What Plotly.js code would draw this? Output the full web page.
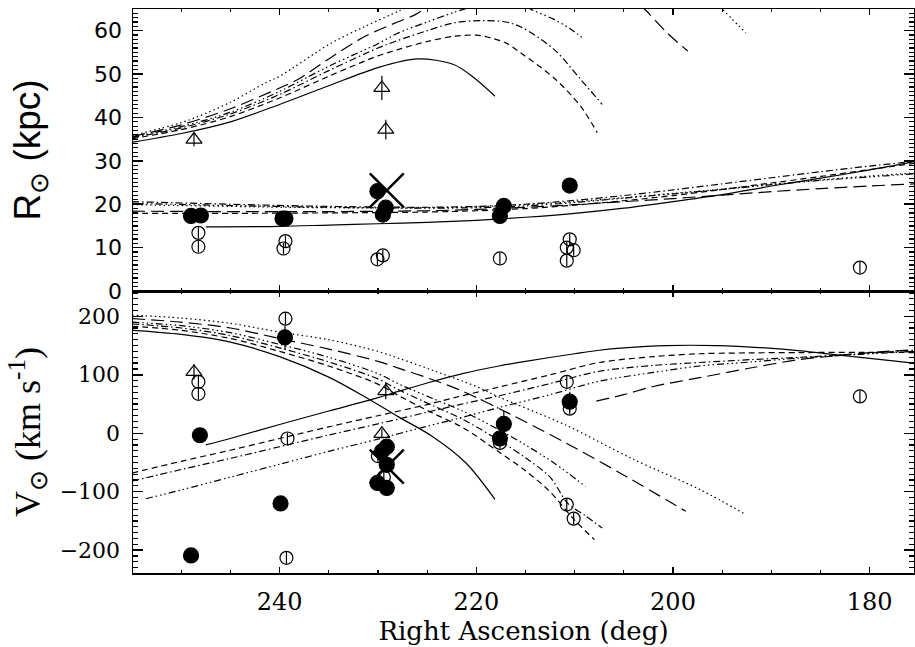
<!DOCTYPE html>
<html><head><meta charset="utf-8">
<script src="https://cdn.plot.ly/plotly-3.0.1.min.js"></script>
<style>html,body{margin:0;padding:0;background:#fff}#plot{width:915px;height:647px}</style>
</head><body><div id="plot"></div>
<script>
// ---------- Top panel: distance R (kpc) model curves, upper family ----------
const solidUpRA = [255, 250, 245, 240, 235, 230, 226, 222.3, 220.2, 218.1];
const solidUpR  = [34.3, 36.3, 39.0, 43.0, 47.3, 51.5, 53.5, 52.2, 49.1, 44.9];
const dashedUpRA = [255, 250, 245, 240, 235, 230, 227.9, 225, 222.3, 220, 219, 217, 215.5, 212.1, 209.4, 207.7];
const dashedUpR  = [35.1, 37.2, 40.2, 44.5, 49.5, 54.2, 55.7, 57.5, 58.7, 59.0, 58.6, 57.2, 54.9, 49.1, 42.6, 36.5];
const dashdotUpRA = [255, 250, 245, 240, 235, 230, 227.9, 225, 222.3, 219.5, 217, 215.5, 212.1, 209.4, 207.2];
const dashdotUpR  = [35.3, 37.6, 40.8, 45.3, 50.8, 56.0, 57.8, 60.0, 61.8, 62.3, 62.0, 60.9, 55.7, 48.8, 43.0];
const dash3UpRA_a = [255, 250, 245, 240, 235, 230, 227.9, 225, 222.3, 220.5];
const dash3UpR_a  = [35.5, 37.9, 41.2, 46.0, 51.8, 57.0, 59.5, 62.0, 64.2, 65.5];
const dash3UpRA_b = [214.8, 214.5, 212.1, 210.5, 209.0];
const dash3UpR_b  = [65.5, 65.0, 62.6, 60.5, 58.0];
const longUpRA_a = [255, 250, 245, 240, 238.1, 235, 231.3, 228, 226.2, 225];
const longUpR_a  = [35.6, 38.3, 42.0, 46.8, 48.8, 53.5, 58.7, 62.0, 63.7, 65.5];
const longUpRA_b = [203.2, 202.9, 200.6, 198.5];
const longUpR_b  = [65.5, 65.0, 59.5, 55.3];
const dotUpRA_a = [255, 250, 248.2, 245, 241.4, 240, 234.7, 231.3, 227.9, 227];
const dotUpR_a  = [35.8, 38.8, 40.3, 43.5, 48.0, 49.5, 57.2, 61.0, 64.5, 65.5];
const dotUpRA_b = [195.2, 195.0, 192.6];
const dotUpR_b  = [65.5, 65.0, 59.5];

// ---------- Top panel: lower family ----------
const loRA = [255, 245, 235, 225, 220, 215, 210, 205, 200, 195, 190, 185, 180, 175.5];
const solidLoRA = [247.5, 240, 235, 230, 225, 220, 215, 210, 205, 200, 195, 190, 185, 180, 175.5];
const solidLoR  = [14.8, 14.9, 15.2, 15.5, 15.8, 16.3, 17.0, 17.9, 19.1, 20.6, 22.2, 24.2, 26.0, 27.9, 29.8];
const dashedLoR   = [17.9, 17.9, 18.0, 18.2, 18.5, 19.0, 19.8, 20.8, 22.0, 23.4, 24.9, 26.4, 28.0, 29.4];
const dashdotLoR  = [20.6, 20.0, 19.5, 19.3, 19.5, 20.0, 20.9, 22.0, 23.3, 24.7, 26.1, 27.5, 28.8, 29.9];
const dash3LoR    = [20.2, 19.7, 19.3, 19.1, 19.2, 19.6, 20.4, 21.4, 22.4, 23.4, 24.5, 25.5, 26.3, 27.0];
const longLoR     = [18.4, 18.3, 18.3, 18.5, 18.8, 19.3, 19.9, 20.6, 21.3, 22.1, 22.9, 23.6, 24.2, 24.7];
const dotLoR      = [19.9, 19.5, 19.2, 19.2, 19.4, 19.9, 20.6, 21.5, 22.5, 23.5, 24.6, 25.6, 26.5, 27.2];

// ---------- Bottom panel: velocity V (km/s), descending family ----------
const solidDnRA = [255, 250, 245, 240, 235, 231.3, 227.9, 224.5, 221.1, 218.1];
const solidDnV  = [176, 169, 156, 131, 96, 62, 28, -5, -50, -113];
const dashedDnRA = [255, 250, 245, 240, 235, 230, 227.85, 224.5, 221.4, 217.7, 215, 212.5, 210.2, 208];
const dashedDnV  = [183, 176, 162, 140, 115, 84, 64, 35, 10, -32, -64, -100, -145, -182];
const dashdotDnRA = [255, 250, 245, 240, 235, 230, 227.85, 224.5, 221.4, 217.7, 215, 212.5, 210.7, 209, 207.2];
const dashdotDnV  = [187, 180, 167, 146, 122, 93, 74, 48, 24, -12, -42, -75, -120, -140, -162];
const dash3DnRA = [255, 250, 245, 240, 235, 230, 227.85, 224.5, 221.4, 217.7, 215, 212, 208.9];
const dash3DnV  = [190, 184, 172, 152, 130, 102, 84, 60, 38, 6, -20, -52, -91];
const longDnRA = [255, 250, 245, 240, 235, 230, 227.85, 224.5, 221.4, 216.7, 210.9, 204.8, 198.7];
const longDnV  = [196, 190, 180, 162, 144, 123, 111, 92, 72, 34, -16.5, -73.6, -133.5];
const dotDnRA = [255, 250, 245, 240, 235, 230, 227.85, 224.5, 220, 217.7, 210.9, 204.1, 197.3, 192.6];
const dotDnV  = [202, 197, 188, 173, 160, 140, 128, 108, 80, 62, 14, -44, -96, -139];

// ---------- Bottom panel: ascending family ----------
const solidAsRA = [247.5, 245, 240, 235, 230, 227.85, 225, 221.4, 217.7, 215, 210, 207.5, 205, 200.7, 195.6, 190.6, 187, 183.8, 180, 175.5];
const solidAsV  = [-20, -9, 15, 38, 61, 72, 86, 102, 115, 123, 136, 142, 146, 150, 150, 146, 141, 135, 128, 120];
const asRA = [255, 250, 245, 240, 235, 230, 225, 221.7, 217.7, 212.5, 207.5, 202, 197.3, 192, 187, 181, 175.5];
const dashedAsV  = [-68, -48, -29, -9, 11, 30, 49, 63, 79, 100, 121, 131, 136, 137.5, 138, 138.5, 138];
const dashdotAsV = [-82, -62, -43, -23, -3, 16, 36, 49, 64, 85, 106, 116, 121, 126, 130, 136, 142];
const dash3AsRA = [253.6, 250, 245, 240, 235, 230, 225, 221.7, 217.7, 212.5, 207.5, 202, 197.3, 192, 187, 181, 175.5];
const dash3AsV  = [-112, -97, -75, -53, -31, -10, 12, 26, 44, 66, 89, 104, 115, 122, 128.8, 135, 140];
const longAsRA = [207.8, 205, 202, 197.3, 192, 187.2, 183.8, 180, 175.5];
const longAsV  = [55, 66, 80, 95, 112, 126, 132, 138, 143];

// ---------- Measured objects, top panel ----------
const triR_RA = [248.7, 229.6, 229.2];
const triR    = [34.9, 46.8, 37.2];
const triR_err = [1.6, 2.8, 2.3];
const fillR_RA = [249.0, 248.0, 239.7, 239.4, 230.05, 229.2, 229.5, 217.2, 217.6, 210.5];
const fillR    = [17.3, 17.4, 16.7, 16.7, 23.0, 19.2, 17.6, 19.6, 17.3, 24.3];
const openR_RA = [248.25, 248.25, 239.4, 239.6, 230.05, 229.5, 217.6, 210.5, 210.8, 210.1, 210.8, 181.0];
const openR    = [13.4, 10.2, 11.5, 9.8, 7.3, 8.2, 7.5, 11.9, 10.0, 9.4, 7.0, 5.4];
const crossR_RA = [229.1];
const crossR    = [23.2];

// ---------- Measured objects, bottom panel ----------
const triV_RA = [248.7, 229.2, 229.6];
const triV    = [105, 72, -1];
const triV_err = [13, 14, 8];
const fillV_RA = [248.1, 249.0, 239.45, 239.9, 229.1, 229.6, 229.1, 230.05, 229.1, 210.5, 217.2, 217.6];
const fillV    = [-3.4, -209, 164, -120, -23, -31, -54, -85, -93.5, 54, 16, -9];
const fillV_err = [5, 5, 20, 10, 5, 5, 5, 5, 5, 17, 22, 10];
const openV_RA = [248.25, 248.25, 239.4, 239.2, 239.3, 230.0, 229.4, 210.8, 210.5, 217.6, 210.8, 210.1, 181.0];
const openV    = [88, 67.5, 196, -9, -213, -39, -75, 88, 42, -16.5, -122, -146, 63];
const crossV_RA = [229.1];
const crossV    = [-57];

const DASH = {
  solid: 'solid', dashed: '6px,4px', dashdot: '7px,3px,1.5px,3px',
  dash3: '7px,3px,1.5px,3px,1.5px,3px,1.5px,3px', longdash: '13px,6px', dotted: '1.5px,3px'
};
const traces = [];
function curve(x, y, dash, top) {
  traces.push({x: x, y: y, type: 'scatter', mode: 'lines', xaxis: top ? 'x2' : 'x', yaxis: top ? 'y2' : 'y',
    line: {color: '#000', width: 1.2, dash: DASH[dash], shape: 'spline', smoothing: 0.9},
    hoverinfo: 'skip', showlegend: false});
}
// top upper family
curve(solidUpRA, solidUpR, 'solid', true);
curve(dashedUpRA, dashedUpR, 'dashed', true);
curve(dashdotUpRA, dashdotUpR, 'dashdot', true);
curve(dash3UpRA_a, dash3UpR_a, 'dash3', true);
curve(dash3UpRA_b, dash3UpR_b, 'dash3', true);
curve(longUpRA_a, longUpR_a, 'longdash', true);
curve(longUpRA_b, longUpR_b, 'longdash', true);
curve(dotUpRA_a, dotUpR_a, 'dotted', true);
curve(dotUpRA_b, dotUpR_b, 'dotted', true);
// top lower family
curve(solidLoRA, solidLoR, 'solid', true);
curve(loRA, dashedLoR, 'dashed', true);
curve(loRA, dashdotLoR, 'dashdot', true);
curve(loRA, dash3LoR, 'dash3', true);
curve(loRA, longLoR, 'longdash', true);
curve(loRA, dotLoR, 'dotted', true);
// bottom descending
curve(solidDnRA, solidDnV, 'solid', false);
curve(dashedDnRA, dashedDnV, 'dashed', false);
curve(dashdotDnRA, dashdotDnV, 'dashdot', false);
curve(dash3DnRA, dash3DnV, 'dash3', false);
curve(longDnRA, longDnV, 'longdash', false);
curve(dotDnRA, dotDnV, 'dotted', false);
// bottom ascending
curve(solidAsRA, solidAsV, 'solid', false);
curve(asRA, dashedAsV, 'dashed', false);
curve(asRA, dashdotAsV, 'dashdot', false);
curve(dash3AsRA, dash3AsV, 'dash3', false);
curve(longAsRA, longAsV, 'longdash', false);

function pts(x, y, symbol, size, err, top) {
  const t = {x: x, y: y, type: 'scatter', mode: 'markers', xaxis: top ? 'x2' : 'x', yaxis: top ? 'y2' : 'y',
    marker: {symbol: symbol, size: size, color: '#000', line: {color: '#000', width: 1.2}},
    hoverinfo: 'skip', showlegend: false, cliponaxis: true};
  if (err !== null) {
    t.error_y = Array.isArray(err) ? {type: 'data', array: err, visible: true, color: '#000', thickness: 1.2, width: 0}
                                   : {type: 'constant', value: err, visible: true, color: '#000', thickness: 1.2, width: 0};
  }
  traces.push(t);
}
pts(openR_RA, openR, 'circle-open', 13, 1.3, true);
pts(fillR_RA, fillR, 'circle', 15, null, true);
pts(triR_RA, triR, 'triangle-up-open', 14, triR_err, true);
pts(openV_RA, openV, 'circle-open', 13, 10, false);
pts(fillV_RA, fillV, 'circle', 15, fillV_err, false);
pts(triV_RA, triV, 'triangle-up-open', 14, triV_err, false);
traces.push({x: crossR_RA, y: crossR, type: 'scatter', mode: 'markers', xaxis: 'x2', yaxis: 'y2',
  marker: {symbol: 'x-thin-open', size: 34, color: '#000', line: {color: '#000', width: 2.5}}, hoverinfo: 'skip', showlegend: false});
traces.push({x: crossV_RA, y: crossV, type: 'scatter', mode: 'markers', xaxis: 'x', yaxis: 'y',
  marker: {symbol: 'x-thin-open', size: 34, color: '#000', line: {color: '#000', width: 2.5}}, hoverinfo: 'skip', showlegend: false});

const serif = 'DejaVu Serif';
const sans = 'DejaVu Sans';
const xBase = {
  range: [254.9, 175.5], tick0: 0, dtick: 20, ticks: 'inside', ticklen: 6, tickwidth: 1.5, tickcolor: '#000',
  minor: {ticks: 'inside', dtick: 5, ticklen: 3, tickwidth: 1.2, tickcolor: '#000', showgrid: false},
  showline: true, linewidth: 1.5, linecolor: '#000', mirror: 'allticks', showgrid: false, zeroline: false
};
const layout = {
  width: 915, height: 647,
  margin: {l: 133, r: 1, t: 9, b: 74},
  paper_bgcolor: '#fff', plot_bgcolor: '#fff', showlegend: false,
  xaxis: Object.assign({}, xBase, {anchor: 'y', domain: [0, 1],
    tickfont: {family: serif, size: 24, color: '#000'}, ticklabelstandoff: 7,
    title: {text: 'Right Ascension (deg)', font: {family: serif, size: 26, color: '#000'}, standoff: 5}}),
  xaxis2: Object.assign({}, xBase, {anchor: 'y2', domain: [0, 1], matches: 'x', showticklabels: false}),
  yaxis: {anchor: 'x', domain: [0, 0.5], range: [-239, 243.3], tick0: 0, dtick: 100,
    ticks: 'inside', ticklen: 10, tickwidth: 1.5, tickcolor: '#000',
    minor: {ticks: 'inside', dtick: 10, ticklen: 5, tickwidth: 1.2, tickcolor: '#000', showgrid: false},
    showline: true, linewidth: 1.5, linecolor: '#000', mirror: 'allticks', showgrid: false, zeroline: false,
    tickfont: {family: serif, size: 22, color: '#000'}, ticklabelstandoff: 7,
    title: {text: 'V<sub>⊙</sub> (km s<sup>-1</sup>)', font: {family: 'Liberation Serif', size: 36, color: '#000'}, standoff: 8}},
  yaxis2: {anchor: 'x2', domain: [0.5, 1], range: [0, 65], tick0: 0, dtick: 10,
    ticks: 'inside', ticklen: 10, tickwidth: 1.5, tickcolor: '#000',
    minor: {ticks: 'inside', dtick: 1, ticklen: 5, tickwidth: 1.2, tickcolor: '#000', showgrid: false},
    showline: true, linewidth: 1.5, linecolor: '#000', mirror: 'allticks', showgrid: false, zeroline: false,
    tickfont: {family: sans, size: 22, color: '#000'}, ticklabelstandoff: 5,
    title: {text: 'R<sub>⊙</sub> (kpc)', font: {family: 'Liberation Sans', size: 37, color: '#000'}, standoff: 42}}
};
Plotly.newPlot('plot', traces, layout, {staticPlot: true, displayModeBar: false});
</script></body></html>
